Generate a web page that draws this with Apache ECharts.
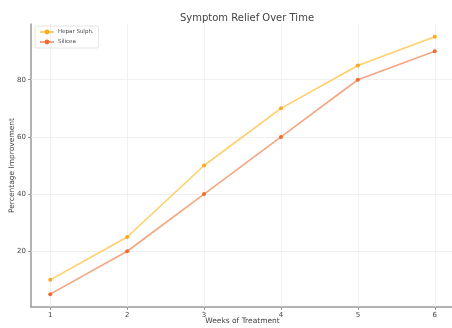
<!DOCTYPE html>
<html>
<head>
<meta charset="utf-8">
<script src="https://cdn.jsdelivr.net/npm/echarts@6/dist/echarts.min.js"></script>
<style>
html,body{margin:0;padding:0;background:#fff;}
#chart{width:452px;height:328px;}
</style>
</head>
<body>
<div id="chart"></div>
<script>
const weeks = [1, 2, 3, 4, 5, 6];
const heparSulph = [10, 25, 50, 70, 85, 95];
const silicea = [5, 20, 40, 60, 80, 90];
const yTicks = [20, 40, 60, 80];

const font = 'DejaVu Sans';
const chart = echarts.init(document.getElementById('chart'));

function pairs(xs, ys) { return xs.map((x, i) => [x, ys[i]]); }

chart.setOption({
  animation: false,
  backgroundColor: '#fff',
  title: {
    text: 'Symptom Relief Over Time',
    left: 242, top: 8, textAlign: 'center',
    textStyle: { fontFamily: font, fontSize: 10, fontWeight: 'normal', color: '#444' }
  },
  legend: {
    orient: 'vertical', left: 35, top: 26,
    padding: [3, 5, 3, 4], itemGap: 4,
    itemWidth: 14, itemHeight: 6,
    borderColor: '#ddd', borderWidth: 0.8, borderRadius: 2,
    textStyle: { fontFamily: font, fontSize: 5.5, color: '#444', padding: [0, 0, 0, -1] },
    data: ['Hepar Sulph.', 'Silicea']
  },
  grid: { left: 31, right: -2, top: 24, bottom: 21, outerBoundsMode: 'none', containLabel: false },
  xAxis: {
    type: 'value', min: 0.75, max: 6.25,
    name: 'Weeks of Treatment', nameLocation: 'middle', nameGap: 10, nameMoveOverlap: false,
    nameTextStyle: { fontFamily: font, fontSize: 7.5, color: '#444' },
    axisLine: { lineStyle: { color: '#999', width: 1.5 } },
    axisTick: { customValues: weeks, length: 3, lineStyle: { color: '#999' } },
    axisLabel: { customValues: weeks, fontFamily: font, fontSize: 7, color: '#444', margin: 5 },
    splitLine: { show: false }
  },
  yAxis: {
    type: 'value', min: 0.5, max: 99.5,
    name: 'Percentage Improvement', nameLocation: 'middle', nameGap: 15, nameMoveOverlap: false,
    nameTextStyle: { fontFamily: font, fontSize: 7.5, color: '#444' },
    axisLine: { show: true, lineStyle: { color: '#999', width: 1.5 } },
    axisTick: { show: true, customValues: yTicks, length: 3, lineStyle: { color: '#999' } },
    axisLabel: { customValues: yTicks, fontFamily: font, fontSize: 7, color: '#444', margin: 5 },
    splitLine: { show: false }
  },
  series: [
    {
      name: 'Hepar Sulph.', type: 'line', data: pairs(weeks, heparSulph),
      symbol: 'circle', symbolSize: 4,
      itemStyle: { color: '#ffa81c' },
      lineStyle: { color: '#ffcf6a', width: 1.6 },
      z: 3,
      markLine: {
        silent: true, symbol: 'none', label: { show: false },
        lineStyle: { color: '#ececec', width: 0.8, type: 'solid' },
        data: weeks.map(w => ({ xAxis: w })).concat(yTicks.map(v => ({ yAxis: v }))),
        z: 1
      }
    },
    {
      name: 'Silicea', type: 'line', data: pairs(weeks, silicea),
      symbol: 'circle', symbolSize: 4,
      itemStyle: { color: '#f26a2e' },
      lineStyle: { color: '#f6a583', width: 1.6 },
      z: 3
    }
  ]
});
</script>
</body>
</html>
